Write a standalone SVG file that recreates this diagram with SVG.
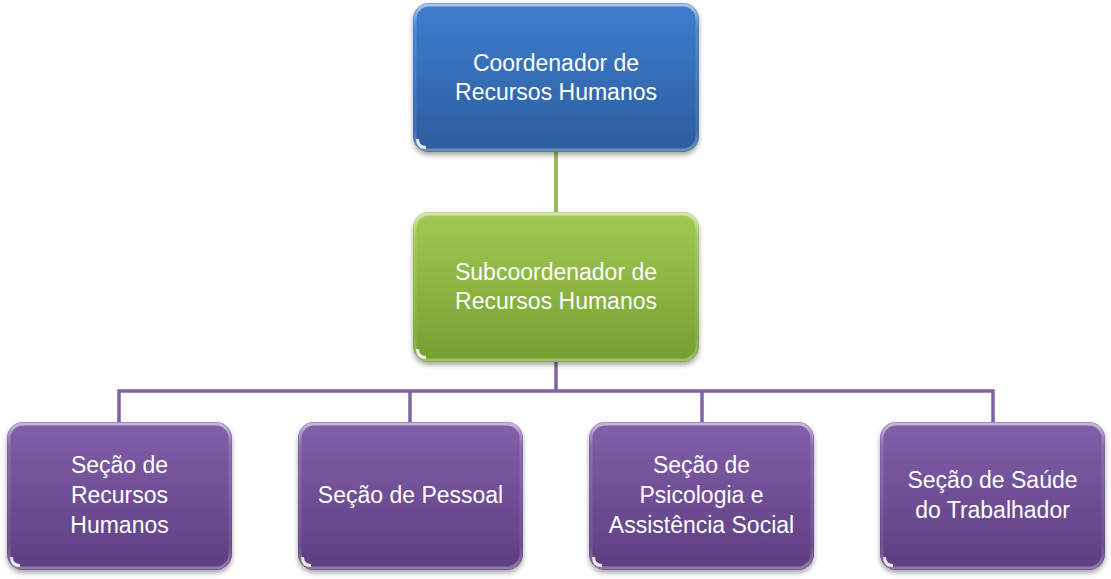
<svg xmlns="http://www.w3.org/2000/svg" width="1111" height="579" viewBox="0 0 1111 579">
  <defs>
    <linearGradient id="gBlue" x1="0" y1="0" x2="0" y2="1">
      <stop offset="0" stop-color="#3d7ed0"/>
      <stop offset="1" stop-color="#2d5d9c"/>
    </linearGradient>
    <linearGradient id="gGreen" x1="0" y1="0" x2="0" y2="1">
      <stop offset="0" stop-color="#a2c953"/>
      <stop offset="1" stop-color="#759f31"/>
    </linearGradient>
    <linearGradient id="gPurple" x1="0" y1="0" x2="0" y2="1">
      <stop offset="0" stop-color="#8160aa"/>
      <stop offset="1" stop-color="#5d3e80"/>
    </linearGradient>
    <linearGradient id="gRim" x1="0" y1="0" x2="0" y2="1">
      <stop offset="0" stop-color="#ffffff" stop-opacity="0.55"/>
      <stop offset="0.15" stop-color="#ffffff" stop-opacity="0.12"/>
      <stop offset="0.85" stop-color="#ffffff" stop-opacity="0.08"/>
      <stop offset="1" stop-color="#ffffff" stop-opacity="0.3"/>
    </linearGradient>
    <filter id="shadow" x="-10%" y="-10%" width="120%" height="130%">
      <feDropShadow dx="0" dy="3" stdDeviation="2.5" flood-color="#000000" flood-opacity="0.35"/>
    </filter>
  </defs>
  <style>
    .box { filter: url(#shadow); }
    .rim { fill: none; stroke: url(#gRim); stroke-width: 3; }
    .glint { fill: #ffffff; opacity: 0.85; }
    .lbl { font-family: "Liberation Sans", Arial, sans-serif; font-size: 23px; fill: #ffffff; text-anchor: middle; }
    .cg { stroke: #9bbb59; stroke-width: 4; fill: none; }
    .cp { stroke: #8064a2; stroke-width: 3.5; fill: none; }
  </style>

  <g id="connectors">
    <line class="cg" x1="556" y1="150" x2="556" y2="214"/>
    <polyline class="cp" points="556,360 556,391"/>
    <polyline class="cp" points="119,424 119,391 993,391 993,424"/>
    <line class="cp" x1="410" y1="391" x2="410" y2="424"/>
    <line class="cp" x1="702" y1="391" x2="702" y2="424"/>
  </g>

  <g id="node-coordenador">
    <rect class="box" x="413" y="3" width="286" height="149" rx="16" fill="url(#gBlue)"/>
    <rect class="rim" x="415" y="5" width="282" height="145" rx="14"/>
    <path class="glint" d="M416,139 Q416,149 426,149 L426,146 Q419,146 419,139 Z"/>
    <text class="lbl" x="556" y="71">Coordenador de</text>
    <text class="lbl" x="556" y="100">Recursos Humanos</text>
  </g>

  <g id="node-subcoordenador">
    <rect class="box" x="413" y="212" width="286" height="150" rx="16" fill="url(#gGreen)"/>
    <rect class="rim" x="415" y="214" width="282" height="146" rx="14"/>
    <path class="glint" d="M416,349 Q416,359 426,359 L426,356 Q419,356 419,349 Z"/>
    <text class="lbl" x="556" y="280">Subcoordenador de</text>
    <text class="lbl" x="556" y="309">Recursos Humanos</text>
  </g>

  <g id="node-secao-rh">
    <rect class="box" x="7" y="422" width="225" height="148" rx="16" fill="url(#gPurple)"/>
    <rect class="rim" x="9" y="424" width="221" height="144" rx="14"/>
    <path class="glint" d="M10,557 Q10,567 20,567 L20,564 Q13,564 13,557 Z"/>
    <text class="lbl" x="119.5" y="473">Seção de</text>
    <text class="lbl" x="119.5" y="503">Recursos</text>
    <text class="lbl" x="119.5" y="533">Humanos</text>
  </g>

  <g id="node-secao-pessoal">
    <rect class="box" x="298" y="422" width="225" height="148" rx="16" fill="url(#gPurple)"/>
    <rect class="rim" x="300" y="424" width="221" height="144" rx="14"/>
    <path class="glint" d="M301,557 Q301,567 311,567 L311,564 Q304,564 304,557 Z"/>
    <text class="lbl" x="410.5" y="503">Seção de Pessoal</text>
  </g>

  <g id="node-secao-psicologia">
    <rect class="box" x="589" y="422" width="225" height="148" rx="16" fill="url(#gPurple)"/>
    <rect class="rim" x="591" y="424" width="221" height="144" rx="14"/>
    <path class="glint" d="M592,557 Q592,567 602,567 L602,564 Q595,564 595,557 Z"/>
    <text class="lbl" x="701.5" y="473">Seção de</text>
    <text class="lbl" x="701.5" y="503">Psicologia e</text>
    <text class="lbl" x="701.5" y="533">Assistência Social</text>
  </g>

  <g id="node-secao-saude">
    <rect class="box" x="880" y="422" width="225" height="148" rx="16" fill="url(#gPurple)"/>
    <rect class="rim" x="882" y="424" width="221" height="144" rx="14"/>
    <path class="glint" d="M883,557 Q883,567 893,567 L893,564 Q886,564 886,557 Z"/>
    <text class="lbl" x="992.5" y="488">Seção de Saúde</text>
    <text class="lbl" x="992.5" y="518">do Trabalhador</text>
  </g>
</svg>
